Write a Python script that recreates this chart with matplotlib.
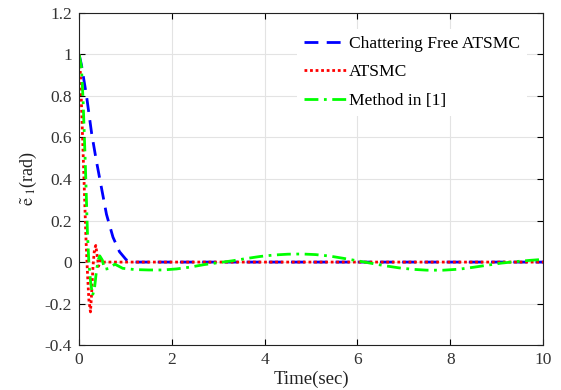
import matplotlib
matplotlib.use("Agg")
import matplotlib.pyplot as plt

plt.rcParams['font.family'] = ['Liberation Serif', 'DejaVu Serif']
plt.rcParams['mathtext.fontset'] = 'stix'

# Chattering Free ATSMC
t_cf = [0, 0.05, 0.16, 0.27, 0.37, 0.48, 0.59, 0.73, 0.87, 1.02, 1.15, 2, 4, 6, 8, 10]
e_cf = [1.0, 0.95, 0.80, 0.62, 0.49, 0.36, 0.23, 0.12, 0.05, 0.01, 0.0, 0.0, 0.0, 0.0, 0.0, 0.0]

# ATSMC
t_at = [0, 0.03, 0.06, 0.09, 0.12, 0.15, 0.18, 0.21, 0.245, 0.27, 0.30, 0.33, 0.36,
        0.39, 0.42, 0.46, 0.5, 0.6, 1, 4, 7, 10]
e_at = [1.0, 0.9, 0.7, 0.5, 0.3, 0.1, -0.05, -0.18, -0.24, -0.15, -0.02, 0.06, 0.08,
        0.03, -0.02, 0.01, 0.0, 0.0, 0.0, 0.0, 0.0, 0.0]

# Method in [1]
t_m1 = [0, 0.05, 0.086, 0.136, 0.18, 0.21, 0.25, 0.29, 0.33, 0.37, 0.41, 0.445, 0.5, 0.55,
        0.65, 0.77, 0.94, 1.2, 1.5, 1.8, 2.1, 2.4, 2.7, 3.0, 3.3, 3.6, 3.9, 4.2, 4.5, 4.8,
        5.1, 5.4, 5.7, 6.0, 6.3, 6.6, 6.9, 7.2, 7.5, 7.85, 8.2, 8.5, 8.8, 9.1, 9.4, 9.7, 10.0]
e_m1 = [1.0, 0.94, 0.78, 0.46, 0.14, 0.0, -0.10, -0.16, -0.13, -0.05, 0.01, 0.03, 0.01, -0.035,
        -0.03, -0.01, -0.03, -0.036, -0.038, -0.038, -0.033, -0.024, -0.012, -0.003, 0.006,
        0.017, 0.027, 0.034, 0.038, 0.039, 0.036, 0.029, 0.018, 0.006, -0.006, -0.018,
        -0.028, -0.035, -0.039, -0.039, -0.034, -0.025, -0.015, -0.005, 0.002, 0.008, 0.013]

fig = plt.figure(figsize=(5.61, 3.90), dpi=100)
ax = fig.add_axes([0.141, 0.115, 0.827, 0.852])

ax.plot(t_cf, e_cf, color=(0, 0, 1), linestyle=(0, (5, 3)), linewidth=2, label='Chattering Free ATSMC')
ax.plot(t_at, e_at, color=(1, 0, 0), linestyle=(0, (1, 1)), linewidth=2, label='ATSMC')
ax.plot(t_m1, e_m1, color=(0, 1, 0), linestyle=(0, (5, 2, 1, 2)), linewidth=2, label='Method in [1]')

ax.set_xlim(0, 10)
ax.set_ylim(-0.4, 1.2)
ax.set_xticks([0, 2, 4, 6, 8, 10])
ax.set_yticks([-0.4, -0.2, 0, 0.2, 0.4, 0.6, 0.8, 1.0, 1.2])
ax.set_yticklabels(['-0.4', '-0.2', '0', '0.2', '0.4', '0.6', '0.8', '1', '1.2'])
ax.grid(True, color='#e3e3e3', linewidth=0.8)
ax.tick_params(direction='in', top=True, right=True, labelsize=12.5, length=4,
               labelcolor='#333333', pad=5)
for s in ax.spines.values():
    s.set_color('#222222')
    s.set_linewidth(0.8)

ax.set_xlabel('Time(sec)', fontsize=13.5, labelpad=2, color='#222222')
ax.set_ylabel(r'$\tilde{\mathrm{e}}_{\ 1}$(rad)', fontsize=13, labelpad=4, color='#222222')

leg = ax.legend(loc='upper right', fontsize=12.6, frameon=True, fancybox=False,
                handlelength=2.4, borderaxespad=0.9, labelspacing=0.7, handletextpad=0.2)
leg.get_frame().set_edgecolor('none')
leg.get_frame().set_facecolor('white')
leg.get_frame().set_alpha(1)

fig.savefig('out.png', dpi=100)
